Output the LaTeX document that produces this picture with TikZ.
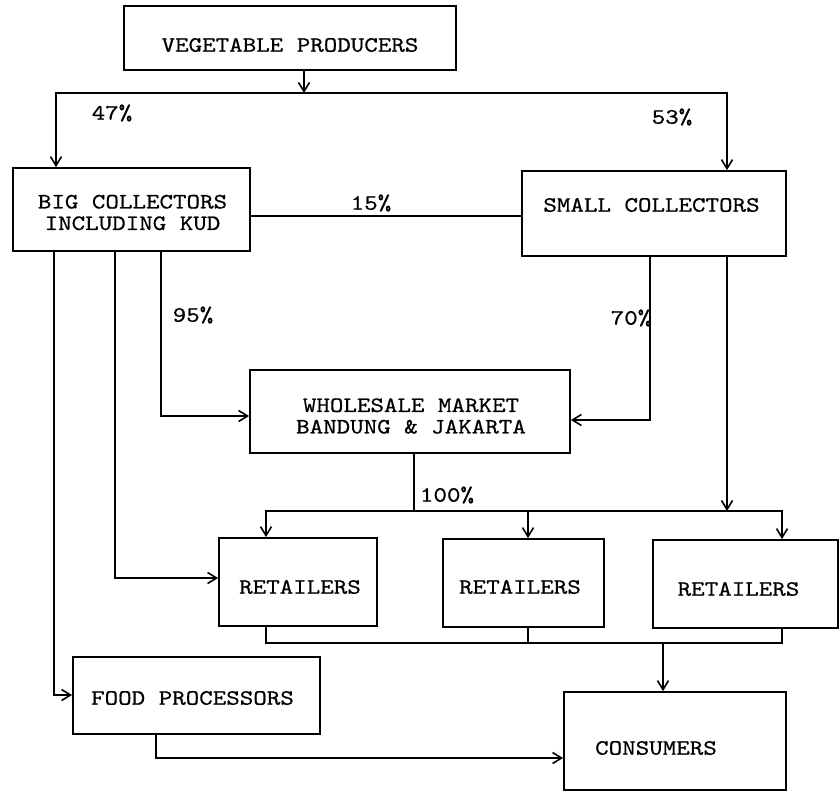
\documentclass[tikz,border=0pt]{standalone}
\usepackage{fontspec}
\setmonofont[FakeStretch=1.17,FakeBold=0.6]{lmmono10-regular.otf}
\usetikzlibrary{arrows.meta}
\tikzset{
  box/.style={draw, line width=1.8pt, inner sep=0pt, rectangle},
  txt/.style={font=\ttfamily\fontsize{22}{21.5}\selectfont, inner sep=0pt, align=center},
  con/.style={line width=1.6pt, line join=miter},
  arr/.style={con, -{Straight Barb[length=9pt,width=11pt,line width=1.6pt]}},
  arr2/.style={con, {Straight Barb[length=9pt,width=11pt,line width=1.6pt]}-{Straight Barb[length=9pt,width=11pt,line width=1.6pt]}}
}
\begin{document}
\begin{tikzpicture}[x=1pt, y=-1pt]
\useasboundingbox (0,0) rectangle (840,793);
% boxes
\node[box, minimum width=332pt, minimum height=64pt] (vp) at (290,38) {};
\node[box, minimum width=237pt, minimum height=83pt] (bc) at (131.5,209.5) {};
\node[box, minimum width=264pt, minimum height=85pt] (sc) at (654,213.5) {};
\node[box, minimum width=320pt, minimum height=83pt] (wm) at (410,411.5) {};
\node[box, minimum width=158pt, minimum height=88pt] (r1) at (298,582) {};
\node[box, minimum width=161pt, minimum height=88pt] (r2) at (523.5,583) {};
\node[box, minimum width=185pt, minimum height=88pt] (r3) at (745.5,584) {};
\node[box, minimum width=247pt, minimum height=77pt] (fp) at (196.5,695.5) {};
\node[box, minimum width=222pt, minimum height=98pt] (co) at (675,741) {};
% box texts
\node[txt] (vpt) at (290,45) {VEGETABLE PRODUCERS};
\node[txt] (bct) at (132.5,212.5) {BIG COLLECTORS\\INCLUDING KUD};
\node[txt] (sct) at (651.5,205) {SMALL COLLECTORS};
\node[txt] (wmt) at (411,416) {WHOLESALE MARKET\\BANDUNG \& JAKARTA};
\node[txt] (r1t) at (300,587) {RETAILERS};
\node[txt] (r2t) at (520,587) {RETAILERS};
\node[txt] (r3t) at (738.5,589) {RETAILERS};
\node[txt] (fpt) at (192.5,698) {FOOD PROCESSORS};
\node[txt] (cot) at (656,748) {CONSUMERS};
% percentage labels
\node[txt] (p47) at (112,113) {47\%};
\node[txt] (p53) at (672,117) {53\%};
\node[txt] (p15) at (371,203) {15\%};
\node[txt] (p95) at (193,315) {95\%};
\node[txt] (p70) at (631,318) {70\%};
\node[txt] (p100) at (447,495) {100\%};
% junction coordinates
\coordinate (j1) at (304,93);
\coordinate (jL) at (56,93);
\coordinate (jR) at (727,93);
\coordinate (c15) at (386,216);
\coordinate (k95) at (161,416);
\coordinate (k70) at (650,420);
\coordinate (k27) at (727,511);
\coordinate (kwm) at (414,511);
\coordinate (b1) at (266,511);
\coordinate (b2) at (528,511);
\coordinate (b3) at (782,511);
\coordinate (k15) at (115,578);
\coordinate (k54) at (54,695);
\coordinate (d1) at (266,643);
\coordinate (d2) at (528,643);
\coordinate (d3) at (782,643);
\coordinate (dc) at (663,643);
\coordinate (kfp) at (156,758);
% connectors
\draw[arr] (vp.south -| j1) -- (j1);
\draw[arr2] (jL |- bc.north) -- (jL) -- (jR) -- (jR |- sc.north);
\draw[con] (bc.east |- c15) -- (sc.west |- c15);
\draw[arr] (bc.south -| k95) -- (k95) -- (wm.west |- k95);
\draw[arr] (sc.south -| k70) -- (k70) -- (wm.east |- k70);
\draw[arr] (sc.south -| k27) -- (k27);
\draw[con] (wm.south -| kwm) -- (kwm);
\draw[arr2] (b1 |- r1.north) -- (b1) -- (b3) -- (b3 |- r3.north);
\draw[arr] (b2) -- (b2 |- r2.north);
\draw[arr] (bc.south -| k15) -- (k15) -- (r1.west |- k15);
\draw[arr] (bc.south -| k54) -- (k54) -- (fp.west |- k54);
\draw[con] (r1.south -| d1) -- (d1) -- (d3) -- (r3.south -| d3);
\draw[con] (r2.south -| d2) -- (d2);
\draw[arr] (dc) -- (dc |- co.north);
\draw[arr] (fp.south -| kfp) -- (kfp) -- (co.west |- kfp);
\end{tikzpicture}
\end{document}
